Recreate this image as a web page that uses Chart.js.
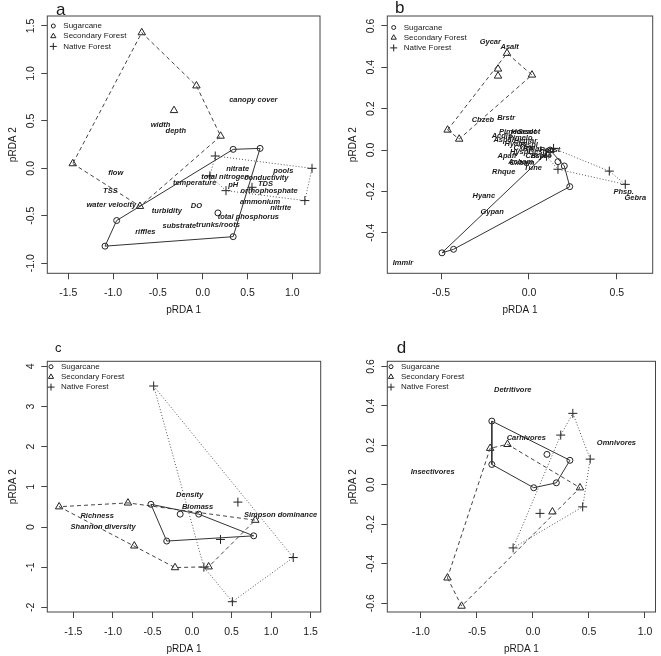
<!DOCTYPE html>
<html>
<head>
<meta charset="utf-8">
<script src="https://cdn.jsdelivr.net/npm/chart.js@4.4.1/dist/chart.umd.min.js"></script>
<style>
  html, body { margin: 0; padding: 0; background: #fff; }
  #wrap { position: relative; width: 661px; height: 656px; }
  canvas { position: absolute; }
</style>
</head>
<body>
<div id="wrap">
  <canvas id="pa" width="330" height="328" style="left:0;top:0"></canvas>
  <canvas id="pb" width="331" height="328" style="left:330px;top:0"></canvas>
  <canvas id="pc" width="330" height="328" style="left:0;top:328px"></canvas>
  <canvas id="pd" width="331" height="328" style="left:330px;top:328px"></canvas>
</div>
<script>
// Site scores per group, panel a (environment)
const sugarA = [[0.34, 0.20], [0.64, 0.21], [0.34, -0.72], [-1.09, -0.82], [-0.96, -0.55], [0.17, -0.47]];
const secA = [[-0.68, 1.43], [-0.07, 0.87], [0.20, 0.34], [-0.70, -0.40], [-1.45, 0.05], [-0.32, 0.61]];
const nativeA = [[0.14, 0.13], [1.22, 0.00], [1.14, -0.34], [0.26, -0.235], [0.08, -0.08], [0.55, -0.20]];
const labelsA = [
  ['canopy cover', 0.565, 0.72], ['width', -0.47, 0.46], ['depth', -0.30, 0.39],
  ['flow', -0.97, -0.05], ['TSS', -1.03, -0.24], ['water velocity', -1.02, -0.39],
  ['turbidity', -0.40, -0.45], ['DO', -0.07, -0.40], ['riffles', -0.64, -0.67],
  ['substrate', -0.26, -0.61], ['trunks/roots', 0.17, -0.60], ['total phosphorus', 0.51, -0.51],
  ['nitrate', 0.39, -0.01], ['total nitrogen', 0.25, -0.09], ['temperature', -0.09, -0.15],
  ['pH', 0.34, -0.18], ['conductivity', 0.71, -0.10], ['TDS', 0.70, -0.165],
  ['pools', 0.90, -0.025], ['orthophosphate', 0.74, -0.24], ['ammonium', 0.64, -0.35],
  ['nitrite', 0.87, -0.42]
];
const xTicksA = [-1.5, -1, -0.5, 0, 0.5, 1];
const yTicksA = [-1, -0.5, 0, 0.5, 1, 1.5];

// panel b (species)
const sugarB = [[-0.495, -0.497], [-0.429, -0.48], [0.232, -0.177], [0.201, -0.077], [0.165, -0.056], [0.12, 0.0]];
const secB = [[-0.125, 0.468], [0.017, 0.363], [-0.176, 0.392], [-0.176, 0.358], [-0.463, 0.097], [-0.397, 0.053]];
const nativeB = [[0.14, 0.008], [0.457, -0.102], [0.548, -0.166], [0.165, -0.093], [0.10, -0.03], [0.12, -0.01]];
const labelsB = [
  ['Gycar', -0.22, 0.524], ['Asalt', -0.11, 0.497], ['Cbzeb', -0.262, 0.145], ['Brstr', -0.13, 0.156],
  ['Pimeo', -0.107, 0.089], ['Hcasot', -0.03, 0.089], ['Sealot', 0.0, 0.089], ['Acdis', -0.154, 0.068],
  ['Pimelo', -0.05, 0.06], ['Aspal', -0.144, 0.048], ['Hyabs', -0.075, 0.03], ['Hemar', -0.02, 0.045],
  ['Pispl', 0.0, 0.025], ['Cxlep', -0.03, 0.008], ['Rhlat', 0.02, 0.005], ['Gesti', 0.05, -0.01],
  ['Hyspl', -0.05, -0.008], ['Chspl', 0.04, -0.03], ['Poest', 0.12, 0.0], ['Bryco', 0.07, -0.028],
  ['Apaff', -0.125, -0.029], ['Cxbam', -0.04, -0.061], ['Acbam', -0.047, -0.058], ['Tune', 0.023, -0.086],
  ['Rhque', -0.144, -0.105], ['Hyanc', -0.257, -0.223], ['Gypan', -0.21, -0.298], ['Immir', -0.717, -0.548],
  ['Phsp.', 0.539, -0.202], ['Gebra', 0.605, -0.234]
];
const xTicksB = [-0.5, 0, 0.5];
const yTicksB = [-0.4, -0.2, 0, 0.2, 0.4, 0.6];

// panel c (diversity)
const sugarC = [[-0.52, 0.565], [-0.15, 0.32], [0.085, 0.32], [-0.32, -0.35], [0.78, -0.22]];
const secC = [[-1.68, 0.505], [-0.81, 0.60], [-0.73, -0.47], [-0.215, -1.01], [0.21, -0.99], [0.80, 0.17]];
const nativeC = [[-0.485, 3.51], [0.58, 0.62], [0.36, -0.31], [1.28, -0.76], [0.51, -1.86], [0.15, -1.0]];
const labelsC = [
  ['Density', -0.03, 0.80], ['Biomass', 0.07, 0.50], ['Richness', -1.20, 0.27],
  ['Shannon diversity', -1.125, 0.01], ['Simpson dominance', 1.12, 0.29]
];
const xTicksC = [-1.5, -1, -0.5, 0, 0.5, 1, 1.5];
const yTicksC = [-2, -1, 0, 1, 2, 3, 4];

// panel d (trophic guilds)
const sugarD = [[-0.367, 0.323], [-0.367, 0.103], [0.007, -0.015], [0.209, 0.01], [0.33, 0.124], [0.125, 0.154]];
const secD = [[-0.382, 0.185], [-0.227, 0.205], [0.42, -0.015], [0.174, -0.137], [-0.763, -0.472], [-0.637, -0.615]];
const nativeD = [[0.356, 0.362], [0.248, 0.252], [0.511, 0.13], [0.444, -0.112], [0.063, -0.145], [-0.177, -0.32]];
const labelsD = [
  ['Detritivore', -0.18, 0.479], ['Carnivores', -0.06, 0.238], ['Omnivores', 0.745, 0.213],
  ['Insectivores', -0.895, 0.066]
];
const xTicksD = [-1, -0.5, 0, 0.5, 1];
const yTicksD = [-0.6, -0.4, -0.2, 0, 0.2, 0.4, 0.6];

const GROUPS = ['Sugarcane', 'Secondary Forest', 'Native Forest'];
const STYLES = [
  { pointStyle: 'circle', radius: 3, legendRadius: 2, dash: [], color: '#333' },
  { pointStyle: 'triangle', radius: 4.3, legendRadius: 3, dash: [4, 3], color: '#444' },
  { pointStyle: 'cross', radius: 4.5, legendRadius: 3.5, dash: [1, 2], color: '#555' }
];
const FONT = '"Liberation Sans", Arial, Helvetica, sans-serif';

// convex hull (monotone chain), closed
const hull = (pts) => {
  const p = pts.slice().sort((a, b) => a[0] - b[0] || a[1] - b[1]);
  const cross = (o, a, b) => (a[0] - o[0]) * (b[1] - o[1]) - (a[1] - o[1]) * (b[0] - o[0]);
  const lower = [], upper = [];
  for (const q of p) {
    while (lower.length >= 2 && cross(lower[lower.length - 2], lower[lower.length - 1], q) <= 0) lower.pop();
    lower.push(q);
  }
  for (const q of p.slice().reverse()) {
    while (upper.length >= 2 && cross(upper[upper.length - 2], upper[upper.length - 1], q) <= 0) upper.pop();
    upper.push(q);
  }
  lower.pop(); upper.pop();
  const h = lower.concat(upper);
  return h.concat([h[0]]);
};

const toXY = (arr) => arr.map(([x, y]) => ({ x, y }));

const buildSets = (groups) => {
  const sets = [];
  groups.forEach((pts, i) => {
    const s = STYLES[i];
    sets.push({
      label: GROUPS[i] + ' hull', data: toXY(hull(pts)), showLine: true, pointRadius: 0,
      borderColor: s.color, borderWidth: 1, borderDash: s.dash, fill: false
    });
    sets.push({
      label: GROUPS[i], data: toXY(pts), showLine: false, pointStyle: s.pointStyle,
      pointRadius: s.radius, pointBorderWidth: 1, borderColor: '#222', pointBorderColor: '#222',
      backgroundColor: 'rgba(0,0,0,0)', pointBackgroundColor: 'rgba(0,0,0,0)'
    });
  });
  return sets;
};

const axis = (min, max, ticks, size, horiz) => ({
  type: 'linear', min, max,
  afterBuildTicks: (s) => { s.ticks = ticks.map(v => ({ value: v })); },
  afterFit: (s) => { if (horiz) s.height = size; else s.width = size; },
  ticks: { display: false },
  grid: { drawOnChartArea: false, drawTicks: true, tickLength: 6, color: '#444', lineWidth: 1 },
  border: { display: false }
});

// R-style decorations: box, tick labels, axis titles, legend, variable names
const rPlot = {
  id: 'rPlot',
  afterDraw(chart, args, o) {
    const { ctx, chartArea: ca, scales: { x, y } } = chart;
    ctx.save();
    ctx.strokeStyle = '#444';
    ctx.lineWidth = 1;
    ctx.strokeRect(ca.left, ca.top, ca.right - ca.left, ca.bottom - ca.top);

    ctx.fillStyle = '#1a1a1a';
    ctx.font = '10.5px ' + FONT;
    ctx.textAlign = 'center';
    ctx.textBaseline = 'middle';
    x.ticks.forEach(t => ctx.fillText(o.fmtX(t.value), x.getPixelForValue(t.value), ca.bottom + 20));
    y.ticks.forEach(t => {
      ctx.save();
      ctx.translate(ca.left - 15.7, y.getPixelForValue(t.value));
      ctx.rotate(-Math.PI / 2);
      ctx.fillText(o.fmtY(t.value), 0, 0);
      ctx.restore();
    });
    ctx.font = '10px ' + FONT;
    ctx.fillText('pRDA 1', (ca.left + ca.right) / 2, ca.bottom + 37);
    ctx.save();
    ctx.translate(ca.left - 34, (ca.top + ca.bottom) / 2);
    ctx.rotate(-Math.PI / 2);
    ctx.fillText('pRDA 2', 0, 0);
    ctx.restore();

    // panel letter
    ctx.textAlign = 'left';
    ctx.textBaseline = 'alphabetic';
    ctx.font = o.letterSize + 'px ' + FONT;
    ctx.fillText(o.letter, ca.left + o.letterDx, ca.top + o.letterDy);

    // legend
    ctx.font = '8px ' + FONT;
    ctx.textBaseline = 'middle';
    GROUPS.forEach((g, i) => {
      const ly = ca.top + o.legendDy + i * 10.2;
      ctx.save();
      ctx.strokeStyle = '#222';
      ctx.fillStyle = 'rgba(0,0,0,0)';
      Chart.helpers.drawPoint(ctx, { pointStyle: STYLES[i].pointStyle, radius: STYLES[i].legendRadius, rotation: 0, borderWidth: 1 }, ca.left + o.legendDx, ly);
      ctx.restore();
      ctx.fillText(g, ca.left + o.legendDx + 10, ly);
    });

    // variable / species names
    ctx.font = 'italic bold 7.5px ' + FONT;
    ctx.textAlign = 'center';
    o.labels.forEach(([t, lx, ly]) => ctx.fillText(t, x.getPixelForValue(lx), y.getPixelForValue(ly)));
    ctx.restore();
  }
};

const fmt1 = (v) => v.toFixed(1);
const fmt0 = (v) => v.toFixed(0);

const makePanel = (id, p) => new Chart(document.getElementById(id), {
  type: 'scatter',
  data: { datasets: buildSets(p.groups) },
  options: {
    responsive: false,
    animation: false,
    events: [],
    layout: { padding: { top: p.top, right: p.right, left: 0, bottom: 0 } },
    scales: {
      x: axis(p.xMin, p.xMax, p.xTicks, p.xAxisH, true),
      y: axis(p.yMin, p.yMax, p.yTicks, p.yAxisW, false)
    },
    plugins: {
      legend: { display: false },
      tooltip: { enabled: false },
      rPlot: {
        fmtX: p.fmtX, fmtY: p.fmtY, labels: p.labels, letter: p.letter, letterSize: p.letterSize,
        letterDx: p.letterDx, letterDy: p.letterDy, legendDx: p.legendDx, legendDy: p.legendDy
      }
    }
  },
  plugins: [rPlot]
});

document.addEventListener('DOMContentLoaded', () => {
  makePanel('pa', {
    groups: [sugarA, secA, nativeA], labels: labelsA, fmtX: fmt1, fmtY: fmt1,
    xMin: -1.734, xMax: 1.309, yMin: -1.106, yMax: 1.605, xTicks: xTicksA, yTicks: yTicksA,
    top: 16, right: 10, xAxisH: 54.7, yAxisW: 47.3,
    letter: 'a', letterSize: 17, letterDx: 8.7, letterDy: -1, legendDx: 6, legendDy: 10
  });
  makePanel('pb', {
    groups: [sugarB, secB, nativeB], labels: labelsB, fmtX: fmt1, fmtY: fmt1,
    xMin: -0.806, xMax: 0.704, yMin: -0.596, yMax: 0.648, xTicks: xTicksB, yTicks: yTicksB,
    top: 16, right: 8.3, xAxisH: 54.7, yAxisW: 57.3,
    letter: 'b', letterSize: 17, letterDx: 7.7, letterDy: -3, legendDx: 6.4, legendDy: 11.5
  });
  makePanel('pc', {
    groups: [sugarC, secC, nativeC], labels: labelsC, fmtX: fmt1, fmtY: fmt0,
    xMin: -1.83, xMax: 1.627, yMin: -2.116, yMax: 4.125, xTicks: xTicksC, yTicks: yTicksC,
    top: 33.3, right: 9.3, xAxisH: 44, yAxisW: 47.3,
    letter: 'c', letterSize: 13, letterDx: 7.7, letterDy: -9, legendDx: 3.7, legendDy: 5.4
  });
  makePanel('pd', {
    groups: [sugarD, secD, nativeD], labels: labelsD, fmtX: fmt1, fmtY: fmt1,
    xMin: -1.30, xMax: 1.094, yMin: -0.645, yMax: 0.626, xTicks: xTicksD, yTicks: yTicksD,
    top: 33.3, right: 1, xAxisH: 44, yAxisW: 57.3,
    letter: 'd', letterSize: 17, letterDx: 9.4, letterDy: -8, legendDx: 3.7, legendDy: 5.4
  });
});
</script>
</body>
</html>
